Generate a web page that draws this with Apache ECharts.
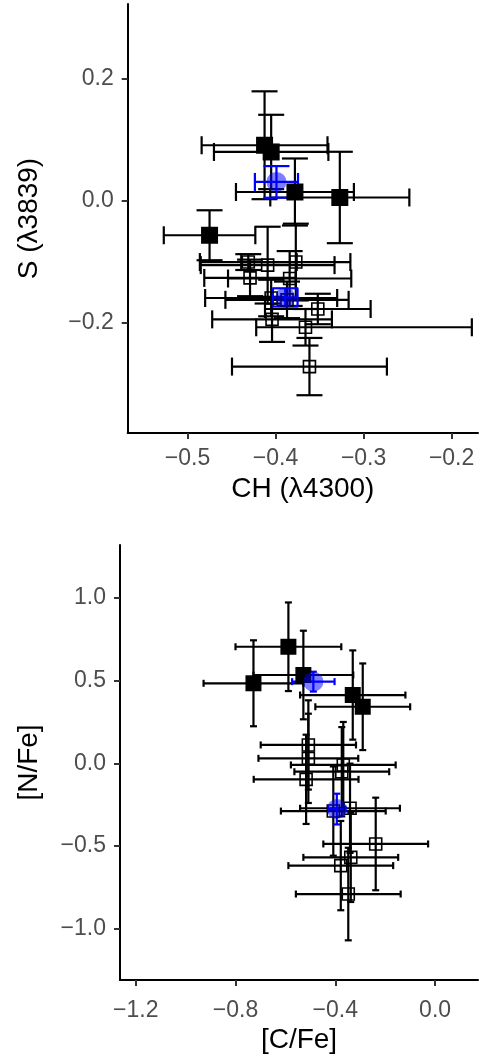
<!DOCTYPE html>
<html>
<head>
<meta charset="utf-8">
<script src="https://cdn.jsdelivr.net/npm/echarts@6/dist/echarts.min.js"></script>
<style>
html,body{margin:0;padding:0;background:#fff;}
#chart{width:483px;height:1056px;}
</style>
</head>
<body>
<div id="chart"></div>
<script>
// ---------- Top panel: CH (λ4300) vs S (λ3839) ----------
const topXTicks = [-0.5, -0.4, -0.3, -0.2];
const topYTicks = [-0.2, 0.0, 0.2];

// filled squares
const topFilledX = [-0.4125, -0.405, -0.378, -0.327, -0.475];
const topFilledY = [0.0907, 0.0797, 0.014, 0.005, -0.057];
const topFilledXErr = [0.0715, 0.065, 0.067, 0.079, 0.052];
const topFilledYErr = [0.0885, 0.061, 0.055, 0.075, 0.041];

// open squares
const topOpenX = [-0.431, -0.409, -0.377, -0.429, -0.384, -0.404, -0.366, -0.3615, -0.405, -0.387, -0.352];
const topOpenY = [-0.101, -0.106, -0.101, -0.127, -0.128, -0.195, -0.208, -0.2725, -0.160, -0.163, -0.178];
const topOpenXErrMinus = [0.055, 0.076, 0.062, 0.052, 0.070, 0.068, 0.056, 0.088, 0.075, 0.070, 0.060];
const topOpenXErrPlus  = [0.055, 0.076, 0.062, 0.052, 0.070, 0.068, 0.189, 0.088, 0.075, 0.070, 0.060];
const topOpenYErr = [0.013, 0.063, 0.063, 0.030, 0.045, 0.037, 0.030, 0.047, 0.030, 0.030, 0.025];

// group means (blue)
const topMeanX = [-0.399, -0.389];
const topMeanY = [0.0305, -0.159];
const topMeanXErr = [0.0245, 0.014];
const topMeanYErr = [0.026, 0.015];

// ---------- Bottom panel: [C/Fe] vs [N/Fe] ----------
const botXTicks = [-1.2, -0.8, -0.4, 0.0];
const botYTicks = [-1.0, -0.5, 0.0, 0.5, 1.0];

const botFilledX = [-0.588, -0.528, -0.728, -0.330, -0.290];
const botFilledY = [0.705, 0.534, 0.484, 0.413, 0.342];
const botFilledXErr = [0.212, 0.200, 0.200, 0.211, 0.190];
const botFilledYErr = [0.268, 0.268, 0.260, 0.270, 0.262];

const botOpenX = [-0.508, -0.508, -0.368, -0.374, -0.517, -0.341, -0.238, -0.338, -0.378, -0.348, -0.408];
const botOpenY = [0.111, 0.030, -0.010, -0.051, -0.097, -0.272, -0.488, -0.569, -0.619, -0.791, -0.289];
const botOpenXErr = [0.191, 0.200, 0.210, 0.190, 0.210, 0.200, 0.210, 0.190, 0.210, 0.210, 0.210];
const botOpenYErr = [0.270, 0.270, 0.260, 0.270, 0.270, 0.270, 0.280, 0.270, 0.270, 0.280, 0.270];

const botMeanX = [-0.488, -0.394];
const botMeanY = [0.494, -0.277];
const botMeanXErr = [0.085, 0.035];
const botMeanYErr = [0.060, 0.093];

// ---------- helpers ----------
function errData(xs, ys, xm, xp, ym, yp) {
  return xs.map((x, i) => [x, ys[i], xm[i], xp[i], ym[i], yp[i]]);
}
function pts(xs, ys) { return xs.map((x, i) => [x, ys[i]]); }

function errSeries(idx, data, color, capHalfW, capHalfH, lw) {
  return {
    type: 'custom', xAxisIndex: idx, yAxisIndex: idx, data: data, silent: true, z: 2,
    renderItem: function (params, api) {
      const x = api.value(0), y = api.value(1);
      const pl = api.coord([x - api.value(2), y]);
      const ph = api.coord([x + api.value(3), y]);
      const pb = api.coord([x, y - api.value(4)]);
      const pt = api.coord([x, y + api.value(5)]);
      const st = { stroke: color, lineWidth: lw, fill: null };
      const L = (x1, y1, x2, y2) => ({ type: 'line', shape: { x1: x1, y1: y1, x2: x2, y2: y2 }, style: st });
      return {
        type: 'group',
        children: [
          L(pl[0], pl[1], ph[0], ph[1]),
          L(pl[0], pl[1] - capHalfH, pl[0], pl[1] + capHalfH),
          L(ph[0], ph[1] - capHalfH, ph[0], ph[1] + capHalfH),
          L(pb[0], pb[1], pt[0], pt[1]),
          L(pb[0] - capHalfW, pb[1], pb[0] + capHalfW, pb[1]),
          L(pt[0] - capHalfW, pt[1], pt[0] + capHalfW, pt[1])
        ]
      };
    }
  };
}

const FONT = "'Liberation Sans', Arial, Helvetica, sans-serif";
function fmt(v) {
  let s = (Math.abs(v) < 1e-9 ? 0 : v).toFixed(1);
  return s.replace('-', '\u2212');
}
function axisCommon(ticks, margin) {
  return {
    type: 'value',
    axisLine: { show: true, onZero: false, lineStyle: { color: '#000', width: 2 } },
    axisTick: { show: true, length: 6, lineStyle: { color: '#333', width: 2 }, customValues: ticks },
    axisLabel: { customValues: ticks, formatter: fmt, color: '#4D4D4D', fontSize: 23, fontFamily: FONT, margin: margin },
    splitLine: { show: false },
    nameLocation: 'middle',
    nameTextStyle: { color: '#000', fontSize: 28, fontFamily: FONT }
  };
}

const chart = echarts.init(document.getElementById('chart'), null, { renderer: 'canvas' });

const option = {
  backgroundColor: '#fff',
  animation: false,
  grid: [
    { left: 127.7, top: 4, width: 350.3, height: 429, containLabel: false },
    { left: 120, top: 545, width: 358, height: 435, containLabel: false }
  ],
  xAxis: [
    Object.assign(axisCommon(topXTicks, 14), { gridIndex: 0, min: -0.568, max: -0.170, name: 'CH (\u03bb4300)', nameGap: 42 }),
    Object.assign(axisCommon(botXTicks, 19), { gridIndex: 1, min: -1.263, max: 0.172, name: '[C/Fe]', nameGap: 46 })
  ],
  yAxis: [
    Object.assign(axisCommon(topYTicks, 14), { gridIndex: 0, min: -0.3815, max: 0.3225, name: 'S (\u03bb3839)', nameGap: 84 }),
    Object.assign(axisCommon(botYTicks, 14), { gridIndex: 1, min: -1.311, max: 1.3206, name: '[N/Fe]', nameGap: 77 })
  ],
  series: [
    // top panel
    errSeries(0, errData(topOpenX, topOpenY, topOpenXErrMinus, topOpenXErrPlus, topOpenYErr, topOpenYErr), '#000', 13, 9, 2.2),
    errSeries(0, errData(topFilledX, topFilledY, topFilledXErr, topFilledXErr, topFilledYErr, topFilledYErr), '#000', 13, 9, 2.2),
    { type: 'scatter', xAxisIndex: 0, yAxisIndex: 0, data: pts(topOpenX, topOpenY), symbol: 'rect', symbolSize: 12, z: 3,
      itemStyle: { color: 'rgba(0,0,0,0)', borderColor: '#000', borderWidth: 1.6, opacity: 1 } },
    { type: 'scatter', xAxisIndex: 0, yAxisIndex: 0, data: pts(topFilledX, topFilledY), symbol: 'rect', symbolSize: 17, z: 3,
      itemStyle: { color: '#000', opacity: 1 } },
    { type: 'scatter', xAxisIndex: 0, yAxisIndex: 0, data: pts(topMeanX, topMeanY), symbol: 'circle', symbolSize: 20, z: 4,
      itemStyle: { color: 'rgba(0,0,255,0.5)', opacity: 1 } },
    errSeries(0, errData(topMeanX, topMeanY, topMeanXErr, topMeanXErr, topMeanYErr, topMeanYErr), '#0000FF', 13, 9, 2.2),
    // bottom panel
    errSeries(1, errData(botOpenX, botOpenY, botOpenXErr, botOpenXErr, botOpenYErr, botOpenYErr), '#000', 3.5, 3.5, 2.2),
    errSeries(1, errData(botFilledX, botFilledY, botFilledXErr, botFilledXErr, botFilledYErr, botFilledYErr), '#000', 3.5, 3.5, 2.2),
    { type: 'scatter', xAxisIndex: 1, yAxisIndex: 1, data: pts(botOpenX, botOpenY), symbol: 'rect', symbolSize: 12, z: 3,
      itemStyle: { color: 'rgba(0,0,0,0)', borderColor: '#000', borderWidth: 1.6, opacity: 1 } },
    { type: 'scatter', xAxisIndex: 1, yAxisIndex: 1, data: pts(botFilledX, botFilledY), symbol: 'rect', symbolSize: 16, z: 3,
      itemStyle: { color: '#000', opacity: 1 } },
    { type: 'scatter', xAxisIndex: 1, yAxisIndex: 1, data: pts(botMeanX, botMeanY), symbol: 'circle', symbolSize: 20, z: 4,
      itemStyle: { color: 'rgba(0,0,255,0.5)', opacity: 1 } },
    errSeries(1, errData(botMeanX, botMeanY, botMeanXErr, botMeanXErr, botMeanYErr, botMeanYErr), '#0000FF', 3.5, 3.5, 2.2)
  ]
};
chart.setOption(option);
</script>
</body>
</html>
